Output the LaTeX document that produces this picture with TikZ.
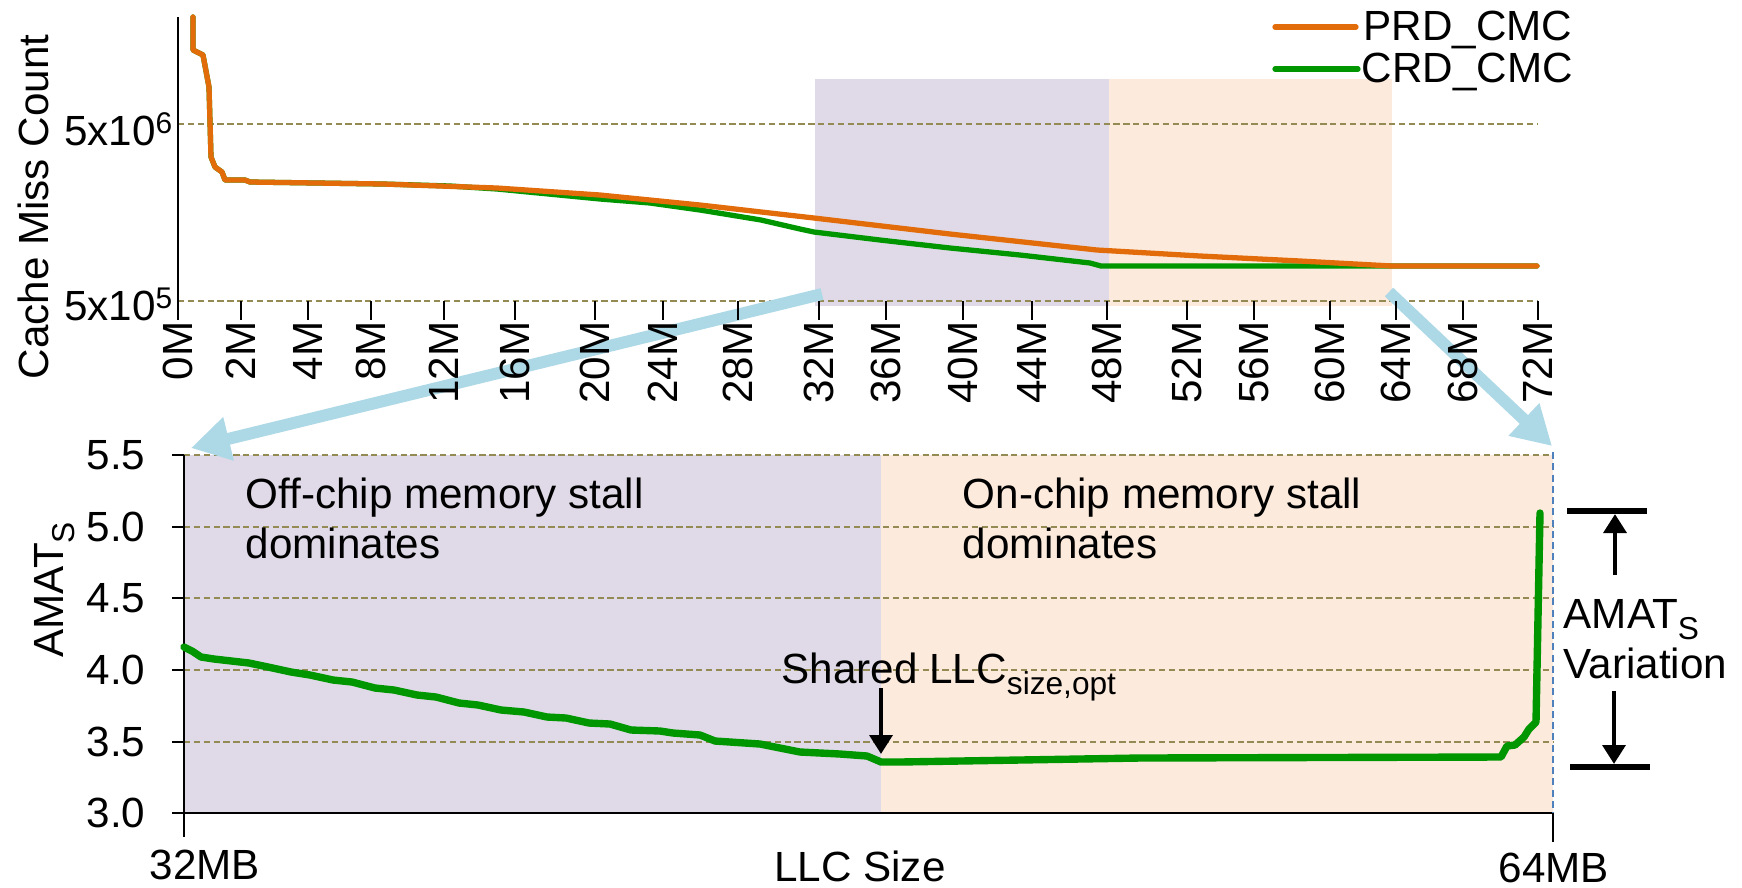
\documentclass[tikz,border=0pt]{standalone}
\usepackage{fontspec}
\setmainfont{Liberation Sans}
\usetikzlibrary{arrows.meta}

\definecolor{prdorange}{RGB}{227,108,10}
\definecolor{crdgreen}{RGB}{0,150,0}
\definecolor{gridolive}{RGB}{148,138,84}
\definecolor{offshade}{RGB}{224,218,232}
\definecolor{onshade}{RGB}{252,234,220}
\definecolor{zoomblue}{RGB}{173,216,230}
\definecolor{edgeblue}{RGB}{79,129,189}

\newcommand{\subtxt}[1]{\raisebox{-3.2pt}{\fontsize{9}{9}\selectfont #1}}
\newcommand{\suptxt}[1]{\raisebox{3.4pt}{\fontsize{8.5}{8.5}\selectfont #1}}

\tikzset{
  gridline/.style={gridolive, line width=0.8pt, dash pattern=on 1.8pt off 1pt},
  axisline/.style={black, line width=0.6pt},
  edgeline/.style={edgeblue, line width=0.6pt, dash pattern=on 2pt off 1.2pt},
  prdline/.style={prdorange, line width=1.5pt, line cap=round, line join=round},
  crdline/.style={crdgreen, line width=1.5pt, line cap=round, line join=round},
  amatline/.style={crdgreen, line width=2.1pt, line cap=round, line join=round},
  zoomarrow/.style={zoomblue, line width=3.4pt, -{Triangle[length=11pt,width=12pt]}},
  markarrow/.style={black, line width=1.4pt, -{Triangle[length=5.4pt,width=6.4pt]}},
  bar/.style={black, line width=1.7pt},
  lbl/.style={inner sep=0pt},
}

\begin{document}
\begin{tikzpicture}[x=0.01cm, y=-0.01cm, font=\fontsize{12}{14.2}\selectfont]
  \useasboundingbox (0,0) rectangle (1742,887);

  %shaded ranges
  \fill[offshade] (815,79) rectangle (1109,306);
  \fill[onshade] (1109,79) rectangle (1392,306);
  \fill[offshade] (184,455) rectangle (881,813);
  \fill[onshade] (881,455) rectangle (1553,813);

  %grid
  \foreach \y in {124, 301}{
    \draw[gridline] (178,\y) -- (1537,\y);
  }
  \foreach \y in {455, 527, 598, 670, 742}{
    \draw[gridline] (184,\y) -- (1553,\y);
  }

  %zoom arrows
  \coordinate (zoomfromA) at (822,294);
  \coordinate (zoomtoA) at (191,448);
  \coordinate (zoomfromB) at (1389,292);
  \coordinate (zoomtoB) at (1552,446);
  \draw[zoomarrow] (zoomfromA) -- (zoomtoA);
  \draw[zoomarrow] (zoomfromB) -- (zoomtoB);

  %top axes
  \draw[axisline] (178,17) -- (178,301);
  \foreach \x/\t in {178/0M, 241/2M, 308/4M, 371/8M, 444/12M, 515/16M, 595/20M,
      663/24M, 738/28M, 819/32M, 886/36M, 963/40M, 1032/44M, 1107/48M,
      1187/52M, 1254/56M, 1330/60M, 1396/64M, 1463/68M, 1538/72M}{
    \draw[axisline] (\x,301) -- (\x,320);
    \node[lbl, rotate=90, anchor=east] (tick\t) at (\x,321) {\t};
  }
  \node[lbl, anchor=base east] (ysix) at (173,145) {5x10\suptxt{6}};
  \node[lbl, anchor=base east] (yfive) at (173,320) {5x10\suptxt{5}};
  \node[lbl, rotate=90, anchor=base west] (ylabtop) at (48,380) {Cache Miss Count};

  %top curves
  \draw[crdline] plot coordinates {(193,17) (193,50) (203,55) (209,87) (211,157)
    (215,167) (222,172) (225,180) (245,180) (250,182) (383,184) (450,186)
    (497,189) (600,199) (650,203) (700,210) (761,220) (800,229) (814,232)
    (880,240) (950,248) (1020,255) (1090,263) (1101,266) (1537,266)};
  \draw[prdline] plot coordinates {(193,17) (193,50) (203,55) (209,87) (211,157)
    (215,167) (222,172) (225,180) (245,180) (250,182) (383,184) (497,188)
    (600,195) (700,205) (814,218) (950,234) (1097,250) (1200,256) (1300,261)
    (1392,266) (1537,266)};

  %legend
  \draw[prdline] (1275,27) -- (1356,27);
  \node[lbl, anchor=base west] (legprd) at (1363,40) {PRD\_CMC};
  \draw[crdline] (1275,69) -- (1358,69);
  \node[lbl, anchor=base west] (legcrd) at (1361,82) {CRD\_CMC};

  %bottom axes
  \draw[axisline] (184,455) -- (184,837);
  \draw[axisline] (184,813) -- (1553,813);
  \draw[axisline] (1553,813) -- (1553,842);
  \draw[edgeline] (1553,452) -- (1553,813);
  \foreach \v/\y [count=\i] in {5.5/455, 5.0/527, 4.5/598, 4.0/670, 3.5/742, 3.0/813}{
    \draw[axisline] (172,\y) -- (184,\y);
    \node[lbl, anchor=east] (yval\i) at (146,\y) {\v};
  }
  \node[lbl, rotate=90, anchor=base west] (ylabbot) at (63,658) {AMAT\subtxt{S}};
  \node[lbl, anchor=base] (xlo) at (205,879) {32MB};
  \node[lbl, anchor=base] (xhi) at (1554,882) {64MB};
  \node[lbl, anchor=base] (xlab) at (860,881) {LLC Size};

  %region texts
  \node[lbl, anchor=base west, align=left] (offtxt) at (245,558) {Off-chip memory stall\\dominates};
  \node[lbl, anchor=base west, align=left] (ontxt) at (962,558) {On-chip memory stall\\dominates};

  %bottom curve
  \draw[amatline] plot coordinates {(184,647) (192,651) (201,657) (214,659)
    (249,663) (268,667) (291,672) (310,675) (333,680) (352,682) (375,688)
    (394,690) (417,695) (436,697) (459,703) (478,705) (501,710) (524,712)
    (547,717) (566,718) (589,723) (610,724) (631,730) (660,731) (673,733)
    (700,735) (715,741) (745,743) (760,744) (800,752) (840,754) (867,756)
    (881,762) (900,762) (1140,758) (1501,757) (1507,746) (1515,745)
    (1524,737) (1529,729) (1536,722) (1540,513)};

  %optimum marker
  \node[lbl, anchor=base west] (shared) at (781,683) {Shared LLC\subtxt{size,opt}};
  \coordinate (optfrom) at (881,688);
  \coordinate (optto) at (881,754);
  \draw[markarrow] (optfrom) -- (optto);

  %variation marker
  \node[lbl, anchor=base west, align=left] (vartxt) at (1563,678) {AMAT\subtxt{S}\\Variation};
  \coordinate (vartop) at (1615,514);
  \coordinate (varbot) at (1614,764);
  \draw[bar] (1567,511) -- (1647,511);
  \draw[bar] (1570,767) -- (1650,767);
  \draw[markarrow] (1615,575) -- (vartop);
  \draw[markarrow] (1614,691) -- (varbot);
\end{tikzpicture}
\end{document}
